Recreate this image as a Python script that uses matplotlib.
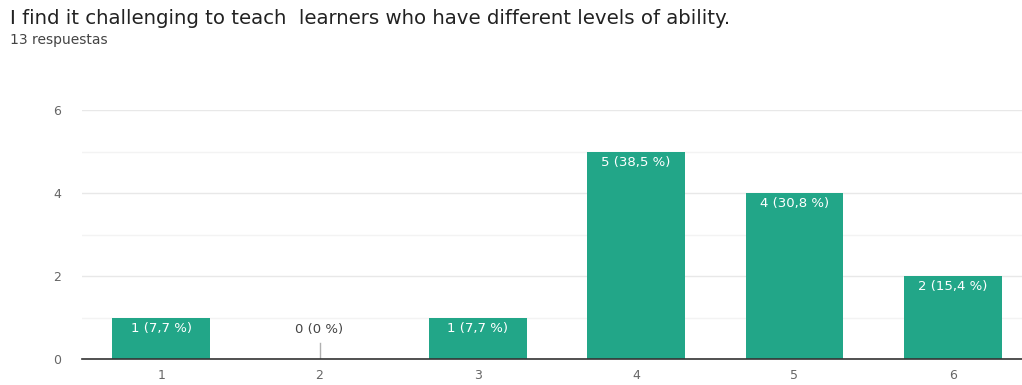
import matplotlib.pyplot as plt

categories = ["1", "2", "3", "4", "5", "6"]
counts = [1, 0, 1, 5, 4, 2]
percents = ["7,7", "0", "7,7", "38,5", "30,8", "15,4"]
y_ticks = [0, 2, 4, 6]

teal = "#22a688"
grid_major = "#e8e8e8"
grid_minor = "#f3f3f3"

fig = plt.figure(figsize=(10.22, 3.85), dpi=100)
ax = fig.add_axes([82 / 1022, 26 / 385, 950 / 1022, 249 / 385])

x = list(range(1, len(categories) + 1))
ax.bar(x, counts, width=0.615, color=teal, zorder=3)

for xi, c, p in zip(x, counts, percents):
    label = f"{c} ({p} %)"
    if c > 0:
        ax.text(xi, c - 0.1, label, ha="center", va="top",
                color="white", fontsize=9.5, zorder=4)
    else:
        ax.plot([xi, xi], [0, 0.38], color="#b0b0b0", lw=1, zorder=4)
        ax.text(xi, 0.7, label, ha="center", va="center",
                color="#444444", fontsize=9.5, zorder=4)

ax.set_xlim(0.5, 6.5)
ax.set_ylim(0, 6)
ax.set_xticks(x)
ax.set_xticklabels(categories)
ax.set_yticks(y_ticks)
ax.set_yticks([1, 3, 5], minor=True)
ax.grid(axis="y", which="major", color=grid_major, lw=1, zorder=0)
ax.grid(axis="y", which="minor", color=grid_minor, lw=1, zorder=0)
ax.tick_params(axis="both", which="both", length=0, colors="#666666", labelsize=9)
ax.tick_params(axis="x", pad=7)
ax.tick_params(axis="y", pad=15)
for side in ["top", "right", "left"]:
    ax.spines[side].set_visible(False)
ax.spines["bottom"].set_color("#333333")
ax.spines["bottom"].set_linewidth(1.2)
ax.spines["bottom"].set_zorder(5)

fig.text(10 / 1022, 1 - 18 / 385, "I find it challenging to teach  learners who have different levels of ability.",
         fontsize=14.2, color="#222222", va="center", ha="left")
fig.text(10 / 1022, 1 - 40 / 385, "13 respuestas", fontsize=10, color="#444444",
         va="center", ha="left")

fig.savefig("out.png", dpi=100, facecolor="white")
